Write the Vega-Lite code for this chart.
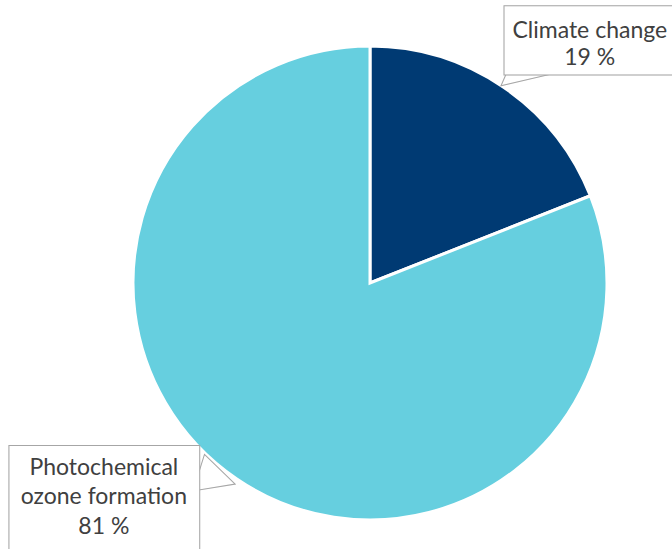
{
  "$schema": "https://vega.github.io/schema/vega-lite/v6.json",
  "width": 474,
  "height": 474,
  "autosize": {"type": "none"},
  "padding": {"left": 133, "top": 46, "right": 65, "bottom": 29},
  "background": "white",
  "config": {"view": {"stroke": null}},
  "data": {
    "values": [
      {"category": "Climate change", "value": 19, "label": "Climate change\n19 %"},
      {"category": "Photochemical ozone formation", "value": 81, "label": "Photochemical\nozone formation\n81 %"}
    ]
  },
  "encoding": {
    "theta": {"field": "value", "type": "quantitative", "stack": true}
  },
  "layer": [
    {
      "mark": {"type": "arc", "outerRadius": 237, "stroke": "white", "strokeWidth": 3},
      "encoding": {
        "color": {
          "field": "category",
          "type": "nominal",
          "scale": {"domain": ["Climate change", "Photochemical ozone formation"], "range": ["#003a73", "#66cfdf"]},
          "legend": null
        }
      }
    },
    {
      "mark": {"type": "text", "font": "DejaVu Sans", "fontSize": 75, "angle": 140.3, "fill": "white", "stroke": "#a6a6a6", "strokeWidth": 1, "radius": 263.4, "thetaOffset": 0.0332, "align": "center", "baseline": "middle"},
      "encoding": {
        "text": {"condition": {"test": "datum.category === 'Climate change'", "value": "▶"}, "value": ""}
      }
    },
    {
      "mark": {"type": "text", "font": "DejaVu Sans", "fontSize": 50, "angle": 17.4, "fill": "white", "stroke": "#a6a6a6", "strokeWidth": 1, "radius": 246.4, "thetaOffset": 0.0705, "align": "center", "baseline": "middle"},
      "encoding": {
        "text": {"condition": {"test": "datum.category !== 'Climate change'", "value": "▶"}, "value": ""}
      }
    },
    {
      "mark": {"type": "text", "font": "Liberation Sans", "fontSize": 230, "fill": "white", "stroke": "#a6a6a6", "strokeWidth": 1, "radius": 372.5, "thetaOffset": 0.1354, "align": "center", "baseline": "middle"},
      "encoding": {
        "text": {"condition": {"test": "datum.category === 'Climate change'", "value": "▬"}, "value": ""}
      }
    },
    {
      "mark": {"type": "text", "font": "DejaVu Sans", "fontSize": 250, "fill": "white", "stroke": "#a6a6a6", "strokeWidth": 1, "radius": 363.7, "thetaOffset": 0.223, "align": "center", "baseline": "middle"},
      "encoding": {
        "text": {"condition": {"test": "datum.category !== 'Climate change'", "value": "■"}, "value": ""}
      }
    },
    {
      "mark": {"type": "text", "font": "Lato", "fontSize": 23, "lineHeight": 27, "lineBreak": "\n", "color": "#404040", "radius": 334.5, "thetaOffset": 0.12, "align": "center", "baseline": "middle"},
      "encoding": {
        "text": {"condition": {"test": "datum.category === 'Climate change'", "field": "label"}, "value": ""}
      }
    },
    {
      "mark": {"type": "text", "font": "Lato", "fontSize": 23, "lineHeight": 29.5, "lineBreak": "\n", "color": "#404040", "radius": 324, "thetaOffset": 0.367, "align": "center", "baseline": "middle"},
      "encoding": {
        "text": {"condition": {"test": "datum.category !== 'Climate change'", "field": "label"}, "value": ""}
      }
    }
  ]
}
